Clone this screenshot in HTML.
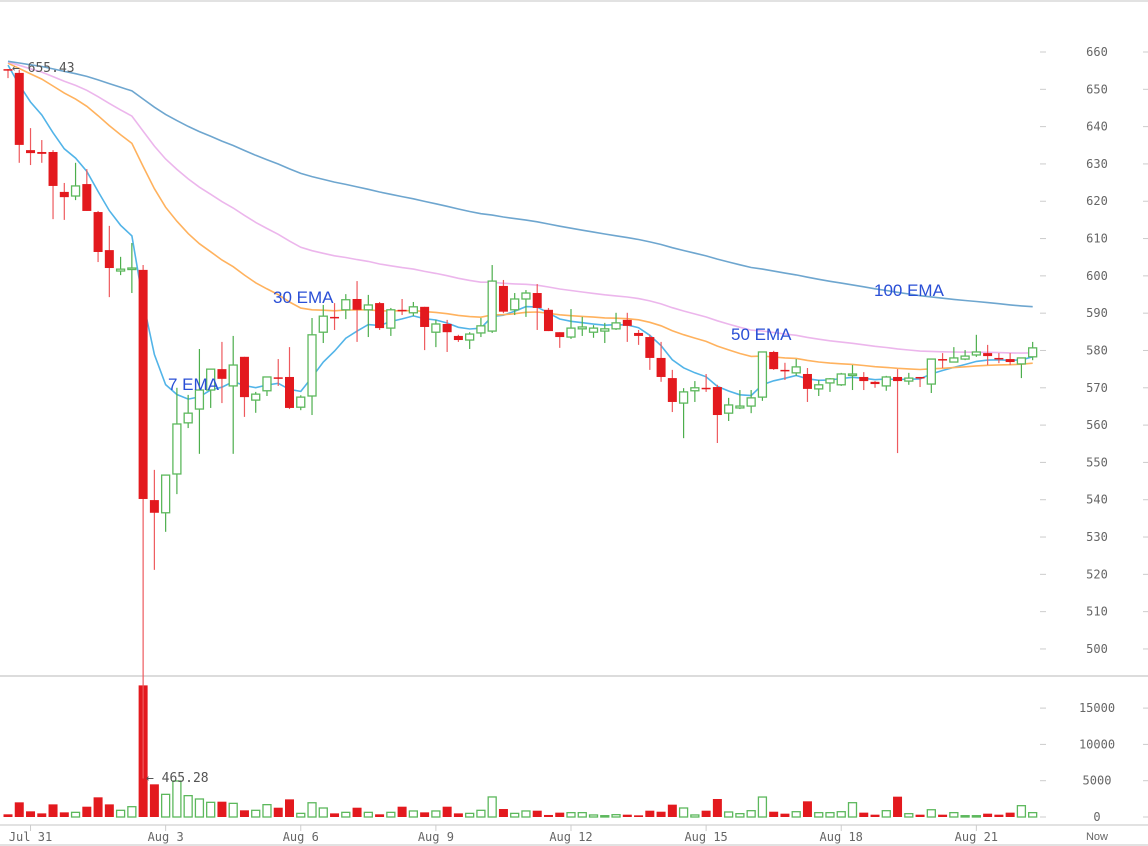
<!DOCTYPE html>
<html><head><meta charset="utf-8"><style>
html,body{margin:0;padding:0;background:#fff;}
svg{display:block;}
.ax{font-family:"DejaVu Sans Mono","Liberation Mono",monospace;font-size:12px;fill:#666;}
.lbl{font-family:"Liberation Sans",sans-serif;font-size:17px;fill:#2a4fd6;}
</style></head><body>
<svg id="chart" width="1148" height="846" viewBox="0 0 1148 846">
<line x1="0" y1="1" x2="1148" y2="1" stroke="#e2e2e2" stroke-width="2"/>
<line x1="0" y1="676" x2="1148" y2="676" stroke="#dcdcdc" stroke-width="2"/>
<line x1="0" y1="825" x2="1148" y2="825" stroke="#e2e2e2" stroke-width="2"/>
<line x1="0" y1="845" x2="1148" y2="845" stroke="#e2e2e2" stroke-width="2"/>
<g id="emas"></g><g id="vols"></g><g id="candles"></g><g id="axes"></g>
<text class="lbl" x="168" y="390">7 EMA</text>
<text class="lbl" x="273" y="303">30 EMA</text>
<text class="lbl" x="731" y="340">50 EMA</text>
<text class="lbl" x="874" y="296">100 EMA</text>
<text class="ax" x="12" y="72" style="font-size:13px;fill:#555">← 655.43</text>
<text class="ax" x="146" y="782" style="font-size:13px;fill:#555">← 465.28</text>
</svg>
<script>
const opens=[655.4,654.4,633.7,633.2,633.2,622.5,621.4,624.6,617.1,606.9,601.3,601.8,601.6,539.9,536.5,546.9,560.6,564.3,569.4,575.0,570.5,578.3,566.7,569.2,572.8,572.9,564.8,567.8,584.9,589.0,590.9,593.8,590.9,592.7,586.0,590.9,590.1,591.7,584.9,587.1,583.9,582.8,584.7,585.2,597.3,590.9,593.8,595.4,590.9,584.9,583.6,585.8,584.9,585.2,585.8,588.2,584.7,583.6,578.0,572.6,565.9,569.2,570.0,570.2,563.2,564.6,565.1,567.5,579.6,574.8,574.0,573.7,569.7,571.3,570.8,573.4,572.9,571.6,570.5,572.9,571.8,572.9,571.0,577.7,576.9,577.7,578.8,579.3,578.0,577.7,576.4,578.3];
const highs=[655.43,655.2,639.6,636.4,633.7,624.9,630.3,628.6,617.4,613.4,605.1,608.8,602.9,548.0,546.6,570.0,568.1,580.4,575.0,582.3,583.9,578.3,568.9,572.9,577.7,580.9,568.0,588.7,592.2,592.7,595.1,598.6,594.9,593.0,591.4,593.8,593.0,591.7,588.2,588.2,584.2,584.9,588.7,602.9,598.9,595.4,596.2,597.8,591.4,584.9,591.1,589.0,586.8,587.4,590.1,590.1,585.5,584.2,582.3,574.8,569.9,571.8,573.7,570.8,567.3,569.4,569.4,579.6,579.9,576.7,577.7,575.3,572.1,572.6,574.0,576.1,574.2,571.8,573.2,575.0,574.0,572.9,577.7,579.3,580.9,580.1,584.2,581.5,579.3,579.3,578.0,582.3];
const lows=[653.0,630.3,629.7,630.3,615.2,615.0,620.3,617.4,603.7,594.3,600.2,595.4,465.28,521.2,531.4,541.5,559.2,552.3,564.6,565.9,552.3,562.2,563.3,567.8,570.5,564.3,564.0,562.7,582.0,585.5,588.4,582.3,583.6,585.5,583.9,589.5,589.2,580.1,580.9,579.6,582.3,580.4,583.6,584.7,590.0,589.5,589.0,585.5,585.2,580.7,583.1,583.9,583.4,582.0,585.5,582.3,581.5,574.8,571.6,563.5,556.5,566.2,568.9,555.2,561.1,564.3,563.2,566.5,574.8,572.1,573.2,566.2,567.8,568.9,570.5,569.4,569.4,570.0,569.2,552.5,570.8,570.2,568.6,575.3,576.9,577.4,578.3,576.1,576.6,576.1,572.6,577.4];
const closes=[655.2,635.1,632.9,632.7,624.1,621.1,624.1,617.4,606.4,602.1,601.8,602.1,540.2,536.5,546.6,560.3,563.2,569.4,575.0,572.4,576.1,567.5,568.3,572.9,572.6,564.6,567.5,584.2,589.2,588.6,593.6,590.9,592.2,586.0,590.9,590.6,591.7,586.3,587.1,584.9,582.8,584.4,586.6,598.6,590.4,593.8,595.4,591.4,585.2,583.6,586.0,586.3,586.0,585.8,587.4,586.6,583.9,578.0,572.9,566.2,568.9,570.0,569.7,562.7,565.4,565.1,567.3,579.6,575.0,574.5,575.6,569.7,570.8,572.4,573.7,573.7,571.8,571.0,572.9,571.8,572.6,572.6,577.7,577.4,578.0,578.5,579.6,578.5,577.7,576.9,578.0,580.7];
const volumes=[370,2020,780,500,1740,640,640,1420,2710,1740,920,1420,18130,4500,3120,4960,2940,2480,2020,2110,1880,920,920,1700,1280,2430,500,1960,1240,500,640,1280,640,370,640,1420,830,640,830,1420,500,500,920,2760,1100,500,830,870,280,600,600,600,280,180,320,320,230,870,730,1700,1240,280,870,2480,690,460,870,2750,730,460,730,2160,600,600,730,1970,600,320,870,2800,460,320,1000,320,600,180,180,460,320,600,1560,600];
const priceTicks=[660,650,640,630,620,610,600,590,580,570,560,550,540,530,520,510,500];
const volTicks=[0,5000,10000,15000];
const dateLabels=["Jul 31","Aug 3","Aug 6","Aug 9","Aug 12","Aug 15","Aug 18","Aug 21"];
const dateIndex=[2,14,26,38,50,62,74,86];
const emaPeriods=[7,30,50,100];
const emaSeeds=[656.5,657,657.3,657.5];
const emaColors=["#52b4e8","#ffb25e","#ecb6ec","#6ea6cf"];

const NS="http://www.w3.org/2000/svg";
const X0=8,DX=11.26;
function xs(i){return X0+i*DX;}
function yp(p){return 52+(660-p)*3.731;}
function yv(v){return 817-v/5000*36.3;}
function mk(tag,attrs,parent){const e=document.createElementNS(NS,tag);for(const k in attrs)e.setAttribute(k,attrs[k]);parent.appendChild(e);return e;}

const gE=document.getElementById('emas'),gV=document.getElementById('vols'),gC=document.getElementById('candles'),gA=document.getElementById('axes');

emaPeriods.forEach((n,k)=>{
  const a=2/(n+1);let e=emaSeeds[k];const pts=[];
  closes.forEach((c,i)=>{if(i>0)e=a*c+(1-a)*e;pts.push(xs(i).toFixed(1)+','+yp(e).toFixed(1));});
  const pl=mk('polyline',{points:pts.join(' '),fill:'none',stroke:emaColors[k],'stroke-width':1.6},gE);
  
  
});

closes.forEach((c,i)=>{
  const o=opens[i],up=c>=o,col=up?'#5cb85c':'#e3191e',x=xs(i);
  const g=mk('g',{},gC);
  
  
  mk('line',{x1:x,x2:x,y1:yp(highs[i]),y2:yp(lows[i]),stroke:up?'#4cae4c':'#ee5a5e','stroke-width':1.2},g);
  const top=yp(Math.max(o,c)),bot=yp(Math.min(o,c));
  const h=Math.max(bot-top,1.5);
  if(up)mk('rect',{x:x-4,y:top,width:8,height:h,fill:'#fff',stroke:col,'stroke-width':1.3},g);
  else mk('rect',{x:x-4.5,y:top,width:9,height:h,fill:col},g);
  const vt=yv(volumes[i]),vb=817;
  const vr=up?mk('rect',{x:x-4,y:vt,width:8,height:Math.max(vb-vt,1),fill:'#fff',stroke:col,'stroke-width':1.3},gV)
             :mk('rect',{x:x-4.5,y:vt,width:9,height:Math.max(vb-vt,1),fill:col},gV);
  
  
});

priceTicks.forEach(p=>{
  const y=yp(p);
  mk('line',{x1:1040,x2:1046,y1:y,y2:y,stroke:'#ccc'},gA);
  mk('line',{x1:1143,x2:1148,y1:y,y2:y,stroke:'#ccc'},gA);
  const t=mk('text',{x:1097,y:y+4,'text-anchor':'middle',class:'ax'},gA);
  t.textContent=p;
  
  
});
volTicks.forEach(v=>{
  const y=yv(v);
  mk('line',{x1:1040,x2:1046,y1:y,y2:y,stroke:'#ccc'},gA);
  mk('line',{x1:1143,x2:1148,y1:y,y2:y,stroke:'#ccc'},gA);
  const t=mk('text',{x:1097,y:y+4,'text-anchor':'middle',class:'ax'},gA);
  t.textContent=v;
  
  
});
dateLabels.forEach((d,k)=>{
  const x=xs(dateIndex[k]);
  mk('line',{x1:x,x2:x,y1:825,y2:831,stroke:'#ccc'},gA);
  const t=mk('text',{x:x,y:841,'text-anchor':'middle',class:'ax'},gA);
  t.textContent=d;
  
  
});
const nw=mk('text',{x:1097,y:840,'text-anchor':'middle',class:'ax',style:'font-family:Liberation Sans,sans-serif;font-size:11px'},gA);
nw.textContent='Now';


</script>
</body></html>
